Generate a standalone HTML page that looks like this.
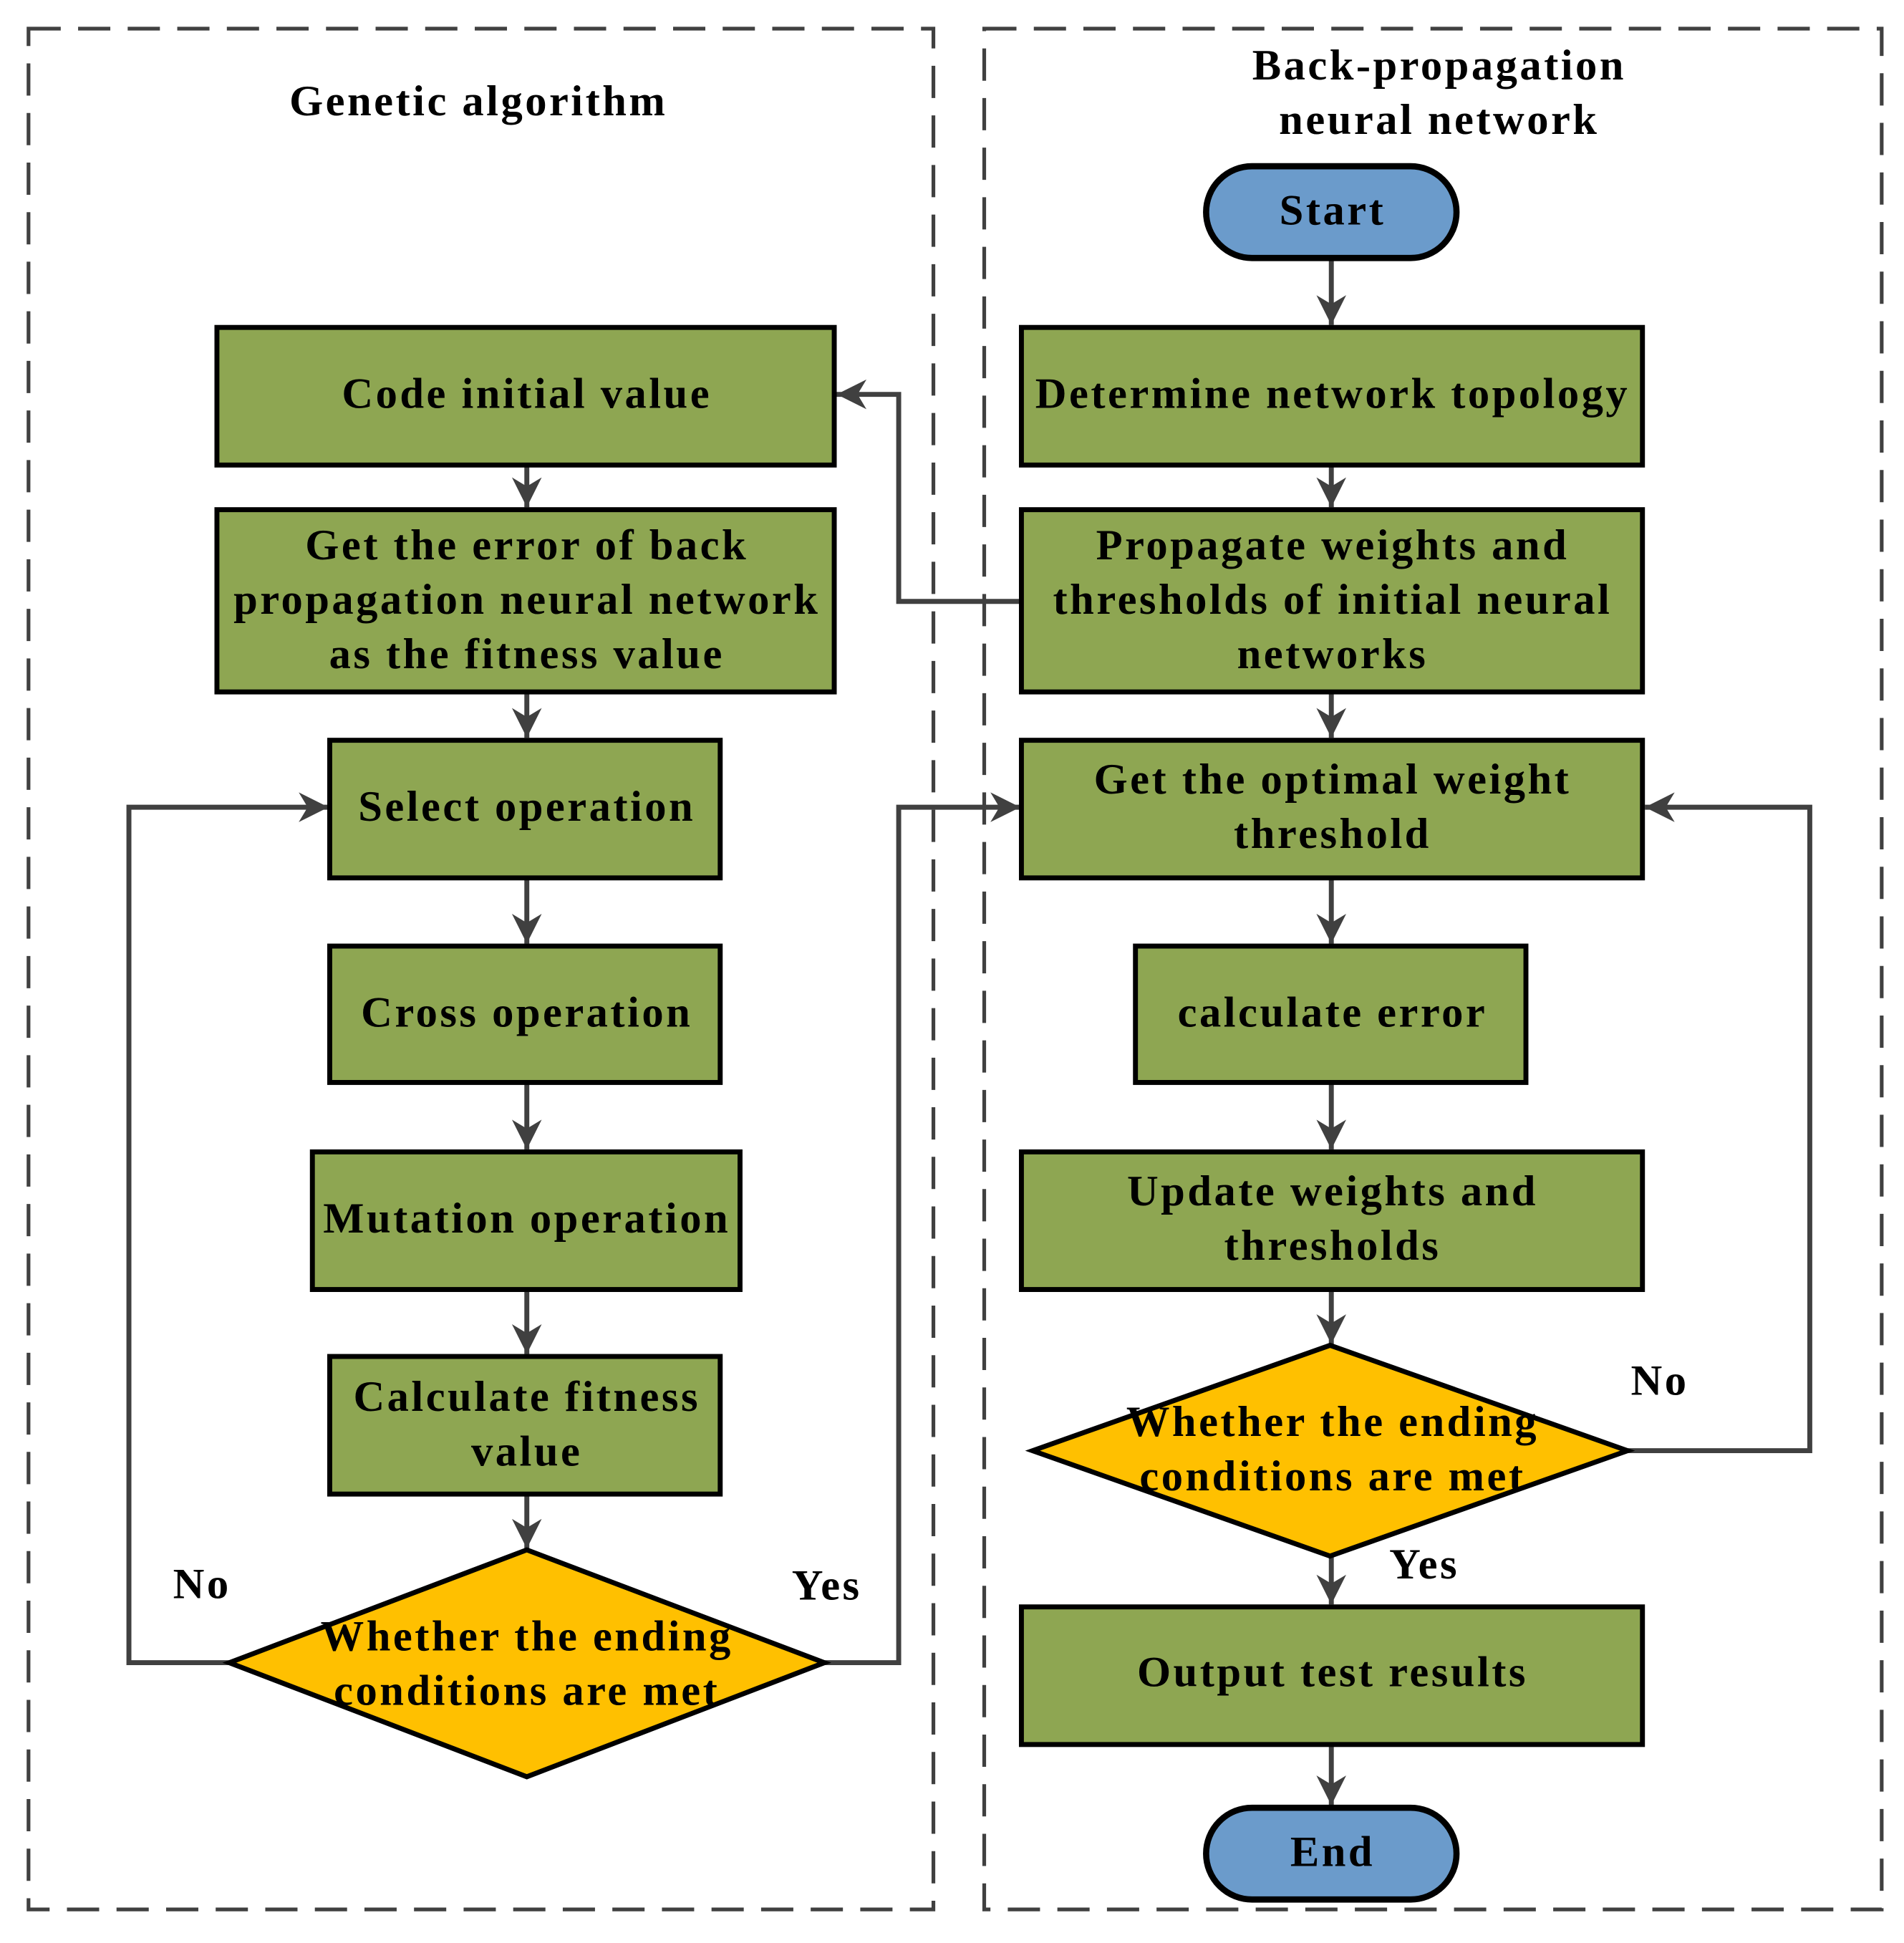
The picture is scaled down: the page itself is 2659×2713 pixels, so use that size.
<!DOCTYPE html>
<html><head><meta charset="utf-8"><style>html,body{margin:0;padding:0;background:#fff}svg{display:block}</style></head>
<body>
<svg width="2659" height="2713" viewBox="0 0 1536 1567" xmlns="http://www.w3.org/2000/svg" font-family="'Liberation Serif',serif" font-weight="bold" font-size="35" letter-spacing="2" text-anchor="middle">
<defs>
<marker id="b" viewBox="0 0 10 10" refX="10" refY="5" markerWidth="24" markerHeight="24" markerUnits="userSpaceOnUse" orient="auto"><path d="M0,0 L10,5 L0,10 L3,5 z" fill="#404040"/></marker></defs>
<g fill="none" stroke="#404040" stroke-width="3" stroke-dasharray="26,14">
<rect x="23" y="23" width="730" height="1517"/>
<rect x="794" y="23" width="724" height="1517"/>
</g>
<g transform="translate(1,0)">
<text x="385" y="93">Genetic algorithm</text>
<text x="1160" y="64">Back-propagation</text>
<text x="1160" y="108">neural network</text>
</g>
<g stroke="#404040" stroke-width="4" fill="none" marker-end="url(#b)">
<line x1="1074" y1="208" x2="1074" y2="262"/>
<line x1="1074" y1="375" x2="1074" y2="409"/>
<line x1="1074" y1="558" x2="1074" y2="595"/>
<line x1="1074" y1="708" x2="1074" y2="761"/>
<line x1="1074" y1="873" x2="1074" y2="927"/>
<line x1="1074" y1="1040" x2="1074" y2="1084"/>
<line x1="1074" y1="1255" x2="1074" y2="1294"/>
<line x1="1074" y1="1407" x2="1074" y2="1456"/>
<line x1="425" y1="375" x2="425" y2="409"/>
<line x1="425" y1="558" x2="425" y2="595"/>
<line x1="425" y1="708" x2="425" y2="761"/>
<line x1="425" y1="873" x2="425" y2="927"/>
<line x1="425" y1="1040" x2="425" y2="1092"/>
<line x1="425" y1="1205" x2="425" y2="1249"/>
<polyline points="824,485 725,485 725,318 675,318"/>
<polyline points="185,1341 104,1341 104,651 265,651"/>
<polyline points="665,1341 725,1341 725,651 823,651"/>
<polyline points="1313,1170 1460,1170 1460,651 1327,651"/>
</g>
<g fill="#8ea652" stroke="#000" stroke-width="4">
<rect x="175" y="264" width="498" height="111"/>
<rect x="175" y="411" width="498" height="147"/>
<rect x="266" y="597" width="315" height="111"/>
<rect x="266" y="763" width="315" height="110"/>
<rect x="252" y="929" width="345" height="111"/>
<rect x="266" y="1094" width="315" height="111"/>
<rect x="824" y="264" width="501" height="111"/>
<rect x="824" y="411" width="501" height="147"/>
<rect x="824" y="597" width="501" height="111"/>
<rect x="916" y="763" width="315" height="110"/>
<rect x="824" y="929" width="501" height="111"/>
<rect x="824" y="1296" width="501" height="111"/>
</g>
<g fill="#ffc000" stroke="#000" stroke-width="4">
<polygon points="425,1250 665,1341 425,1433 185,1341"/>
<polygon points="1073,1085 1313,1170 1073,1255 833,1170"/>
</g>
<g fill="#6b9bcb" stroke="#000" stroke-width="5">
<rect x="973" y="134" width="202" height="74" rx="37"/>
<rect x="973" y="1458" width="202" height="74" rx="37"/>
</g>
<g transform="translate(1,0)">
<text x="1074" y="181">Start</text>
<text x="1074" y="1505">End</text>
<text x="424" y="329">Code initial value</text>
<text x="424" y="451">Get the error of back</text>
<text x="424" y="495">propagation neural network</text>
<text x="424" y="539">as the fitness value</text>
<text x="424" y="662">Select operation</text>
<text x="424" y="828">Cross operation</text>
<text x="424" y="994">Mutation operation</text>
<text x="424" y="1138">Calculate fitness</text>
<text x="424" y="1182">value</text>
<text x="424" y="1331">Whether the ending</text>
<text x="424" y="1375">conditions are met</text>
<text x="162" y="1289">No</text>
<text x="666" y="1290">Yes</text>
<text x="1074" y="329">Determine network topology</text>
<text x="1074" y="451">Propagate weights and</text>
<text x="1074" y="495">thresholds of initial neural</text>
<text x="1074" y="539">networks</text>
<text x="1074" y="640">Get the optimal weight</text>
<text x="1074" y="684">threshold</text>
<text x="1074" y="828">calculate error</text>
<text x="1074" y="972">Update weights and</text>
<text x="1074" y="1016">thresholds</text>
<text x="1074" y="1158">Whether the ending</text>
<text x="1074" y="1202">conditions are met</text>
<text x="1338" y="1125">No</text>
<text x="1148" y="1273">Yes</text>
<text x="1074" y="1360">Output test results</text>
</g>
</svg>
</body></html>
